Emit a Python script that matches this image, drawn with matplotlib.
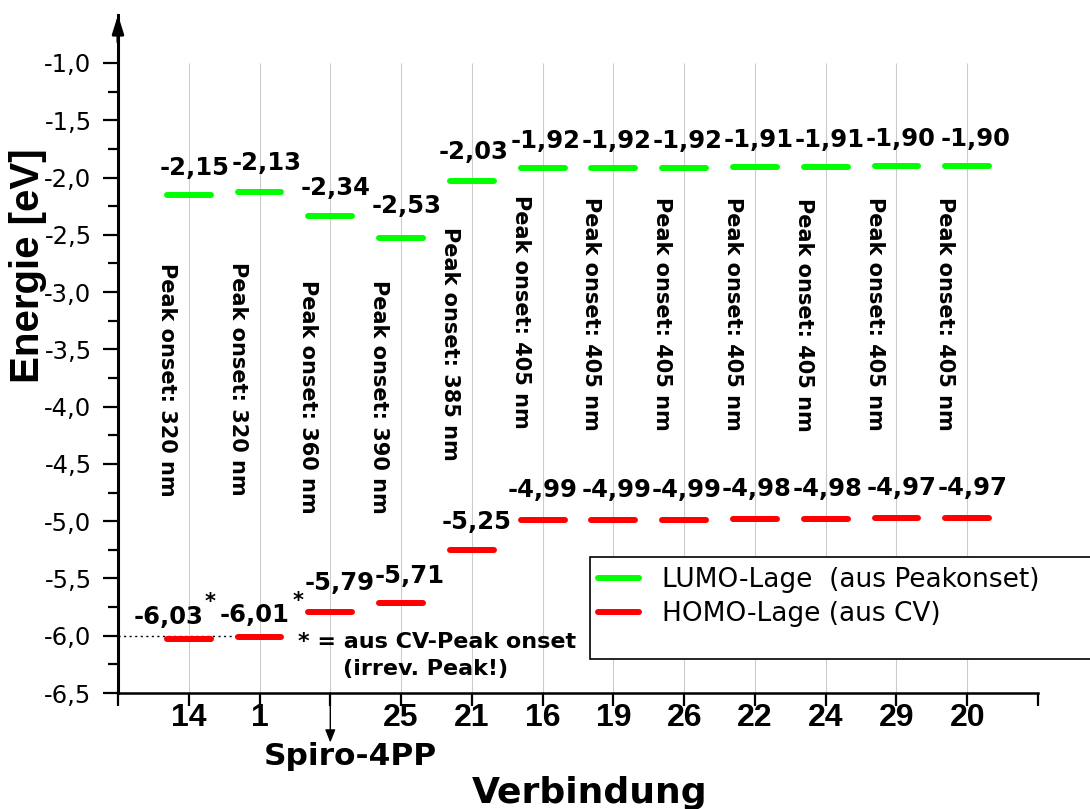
import matplotlib
matplotlib.use('Agg')
import matplotlib.pyplot as plt
import matplotlib.transforms as mtransforms
from matplotlib.lines import Line2D
from matplotlib.patches import Rectangle

# compounds in plot order, energies in eV
compounds = ['14', '1', 'Spiro-4PP', '25', '21', '16', '19', '26', '22', '24', '29', '20']
lumo = [-2.15, -2.13, -2.34, -2.53, -2.03, -1.92, -1.92, -1.92, -1.91, -1.91, -1.90, -1.90]
homo = [-6.03, -6.01, -5.79, -5.71, -5.25, -4.99, -4.99, -4.99, -4.98, -4.98, -4.97, -4.97]
onset_nm = [320, 320, 360, 390, 385, 405, 405, 405, 405, 405, 405, 405]
# HOMO taken from the CV peak onset (irreversible peak)
homo_from_onset = ['14', '1']

# label placement (pixels relative to each level bar)
lumo_dx = [6, 7, 5, 6, 2, 3, 3, 3, 4, 4, 4, 8]
lumo_dy = [20, 22, 21, 25, 22, 20, 20, 20, 20, 20, 20, 20]
homo_dx = [-20, -5, 9, 9, 5, 0, 3, 2, 2, 2, 5, 5]
homo_dy = [15, 15, 22, 20, 21, 23, 23, 23, 23, 23, 23, 23]
onset_top = [-2.745, -2.736, -2.893, -2.893, -2.43, -2.15, -2.17, -2.17, -2.17, -2.18, -2.17, -2.17]
star_offset = {'14': (21, 37), '1': (39, 36)}

GREEN = '#00ff00'
RED = '#ff0000'
PX = 0.72  # points per pixel at dpi 100


def fmt(v):
    return f"{v:.2f}".replace('.', ',')


fig = plt.figure(figsize=(10.9, 8.09), dpi=100, facecolor='white')
ax = fig.add_axes([118 / 1090, 116 / 809, 920 / 1090, 678 / 809])

xs = list(range(1, len(compounds) + 1))
half = 0.31

ax.set_xlim(0, 13)
ax.set_ylim(-6.5, -0.581)

# vertical guide lines
ax.vlines(xs, -6.5, -1.0, colors='#cccccc', lw=0.8, zorder=0)

# energy levels
ax.hlines(lumo, [x - half for x in xs], [x + half for x in xs],
          colors=GREEN, lw=4.3, capstyle='round', zorder=3)
ax.hlines(homo, [x - half for x in xs], [x + half for x in xs],
          colors=RED, lw=4.3, capstyle='round', zorder=3)

for i, x in enumerate(xs):
    ax.annotate(fmt(lumo[i]), (x, lumo[i]), xytext=(lumo_dx[i] * PX, lumo_dy[i] * PX),
                textcoords='offset points', ha='center', va='baseline',
                fontsize=17.5, fontweight='bold')
    ax.annotate(fmt(homo[i]), (x, homo[i]), xytext=(homo_dx[i] * PX, homo_dy[i] * PX),
                textcoords='offset points', ha='center', va='baseline',
                fontsize=17.5, fontweight='bold')
    ax.text(x - 0.31, onset_top[i], f"Peak onset: {onset_nm[i]} nm", rotation=-90,
            ha='center', va='top', fontsize=15, fontweight='bold')
    if compounds[i] in homo_from_onset:
        dx, dy = star_offset[compounds[i]]
        ax.annotate('*', (x, homo[i]), xytext=(dx * PX, dy * PX),
                    textcoords='offset points', ha='center', va='center',
                    fontsize=15, fontweight='bold')

# reference line at -6,0 eV and footnote
ax.hlines(-6.0, 0, 2.32, colors='black', linestyles=(0, (1.5, 2.5)), lw=1.0, zorder=2)
ax.text(4.51, -6.105, '* = aus CV-Peak onset', ha='center', va='baseline',
        fontsize=16, fontweight='bold')
ax.text(4.34, -6.34, '(irrev. Peak!)', ha='center', va='baseline',
        fontsize=16, fontweight='bold')

# axes styling
for side in ('top', 'right'):
    ax.spines[side].set_visible(False)
ax.spines['left'].set_linewidth(2.2)
ax.spines['bottom'].set_linewidth(1.8)

yt = [-6.5 + 0.5 * k for k in range(12)]
ax.set_yticks(yt)
ax.set_yticklabels([f"{v:.1f}".replace('.', ',') for v in yt])
ax.set_yticks([v + 0.25 for v in yt[:-1]], minor=True)
ax.tick_params(axis='y', which='major', direction='out', length=11, width=1.6,
               pad=8, labelsize=17.5)
ax.tick_params(axis='y', which='minor', direction='out', length=7, width=1.6)

xt = list(range(0, 14))
ax.set_xticks(xt)
ax.set_xticklabels([''] + [c if c != 'Spiro-4PP' else '' for c in compounds] + [''],
                   family='Liberation Sans', fontweight='bold', fontsize=23)
ax.tick_params(axis='x', direction='out', length=9.5, width=1.6, pad=-2.5)

# arrowhead on the energy axis
ax.annotate('', xy=(0, 1), xytext=(0, 0.96), xycoords='axes fraction',
            arrowprops=dict(arrowstyle='-|>,head_length=0.54,head_width=0.17',
                            mutation_scale=20, color='black', lw=2.2, shrinkA=0, shrinkB=0))

# Spiro-4PP marker below the axis
spiro_x = compounds.index('Spiro-4PP') + 1
blend = mtransforms.blended_transform_factory(ax.transData, ax.transAxes)
ax.annotate('', xy=(spiro_x, -0.073), xytext=(spiro_x, 0), xycoords=blend, textcoords=blend,
            arrowprops=dict(arrowstyle='-|>,head_length=0.55,head_width=0.22',
                            mutation_scale=14, color='black', lw=1.0, shrinkA=0, shrinkB=0),
            annotation_clip=False)
ax.text(spiro_x + 0.28, -0.106, 'Spiro-4PP', transform=blend, ha='center', va='baseline',
        fontsize=22.5, fontweight='bold')

ax.set_xlabel('Verbindung', fontsize=26, fontweight='bold')
ax.xaxis.set_label_coords(0.513, -0.162)
ax.xaxis.label.set_va('baseline')

ax.set_ylabel('Energie [eV]', family='Liberation Sans', fontsize=29, fontweight='bold')
ax.yaxis.set_label_coords(-0.0978, 0.63)
ax.yaxis.label.set_va('center')
ax.yaxis.label.set_ha('center')

# legend with an open-ended frame
ax.add_patch(Rectangle((590 / 1090, 150 / 809), 0.6, 102 / 809, transform=fig.transFigure,
                       facecolor='white', edgecolor='black', lw=1.2, zorder=4,
                       clip_on=False))
handles = [Line2D([], [], color=GREEN, lw=4.3, solid_capstyle='round'),
           Line2D([], [], color=RED, lw=4.3, solid_capstyle='round')]
leg = ax.legend(handles, ['LUMO-Lage  (aus Peakonset)', 'HOMO-Lage (aus CV)'],
                loc='upper left', bbox_to_anchor=(598 / 1090, (809 - 567) / 809),
                bbox_transform=fig.transFigure, frameon=False, borderpad=0,
                borderaxespad=0, handlelength=1.56, handletextpad=0.85,
                labelspacing=0.3, fontsize=19)
leg.set_zorder(5)

fig.savefig('out.png', dpi=100, facecolor='white')
